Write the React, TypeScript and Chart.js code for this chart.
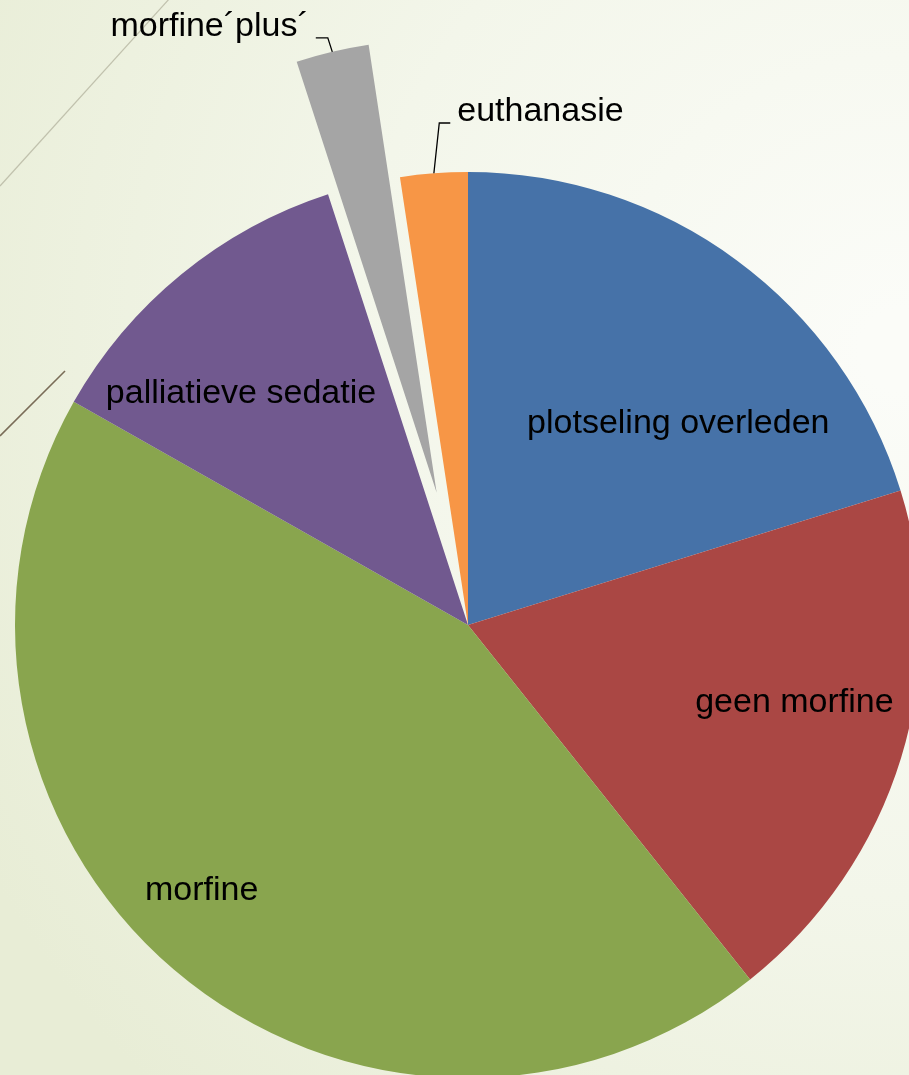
import React, { useEffect, useRef } from "react";
import { Chart, registerables } from "chart.js";

Chart.register(...registerables);

// ---- data ----
const categories = [
  "plotseling overleden",
  "geen morfine",
  "morfine",
  "palliatieve sedatie",
  "morfine´plus´",
  "euthanasie",
];
const shares = [20.2, 19.1, 43.9, 11.8, 2.6, 2.4];

// ---- styles ----
const sliceColors = ["#4672A8", "#AA4744", "#89A54E", "#71598F", "#A5A5A5", "#F79646"];
const explodePx = [0, 0, 0, 0, 136, 0];
const labelInside: ({ dAngle: number; rFrac: number } | null)[] = [
  { dAngle: 11.3, rFrac: 0.628 },
  { dAngle: -2.1, rFrac: 0.746 },
  { dAngle: 3.6, rFrac: 0.845 },
  { dAngle: -6.4, rFrac: 0.701 },
  null,
  null,
];
const labelLeader: ({ ex: number; ey: number; hx: number } | null)[] = [
  null,
  null,
  null,
  null,
  { ex: -4.5, ey: -14, hx: -12 },
  { ex: 5.4, ey: -50.3, hx: 11 },
];
const FONT = "34px 'Liberation Sans', Arial, sans-serif";

const backgroundPlugin = {
  id: "bg",
  beforeDraw(chart: any) {
    const { ctx, width, height } = chart;
    ctx.save();
    const g = ctx.createRadialGradient(900, 350, 40, 900, 350, 1050);
    g.addColorStop(0, "#fbfcf8");
    g.addColorStop(0.5, "#f3f6ea");
    g.addColorStop(1, "#e8edd6");
    ctx.fillStyle = g;
    ctx.fillRect(0, 0, width, height);
    ctx.strokeStyle = "rgba(185,185,165,0.85)";
    ctx.lineWidth = 1.2;
    ctx.beginPath();
    ctx.moveTo(0, 186);
    ctx.quadraticCurveTo(90, 86, 170, -2);
    ctx.stroke();
    ctx.strokeStyle = "#7a6d58";
    ctx.lineWidth = 1.6;
    ctx.beginPath();
    ctx.moveTo(0, 436);
    ctx.lineTo(65, 371);
    ctx.stroke();
    ctx.restore();
  },
};

const explodePlugin = {
  id: "explode",
  afterDatasetsUpdate(chart: any) {
    const meta = chart.getDatasetMeta(0);
    meta.data.forEach((el: any, i: number) => {
      const d = explodePx[i] || 0;
      if (!d) return;
      const mid = (el.startAngle + el.endAngle) / 2;
      el.x += Math.cos(mid) * d;
      el.y += Math.sin(mid) * d;
    });
  },
};

const labelPlugin = {
  id: "sliceLabels",
  afterDatasetsDraw(chart: any) {
    const { ctx } = chart;
    const meta = chart.getDatasetMeta(0);
    ctx.save();
    ctx.font = FONT;
    ctx.fillStyle = "#000";
    ctx.textBaseline = "alphabetic";
    meta.data.forEach((el: any, i: number) => {
      const { x, y, startAngle, endAngle, outerRadius } = el;
      const mid = (startAngle + endAngle) / 2;
      const inside = labelInside[i];
      if (inside) {
        const a = mid + (inside.dAngle * Math.PI) / 180;
        const r = outerRadius * inside.rFrac;
        ctx.textAlign = "center";
        ctx.fillText(categories[i], x + Math.cos(a) * r, y + Math.sin(a) * r);
      }
      const ld = labelLeader[i];
      if (ld) {
        const ox = x + Math.cos(mid) * outerRadius;
        const oy = y + Math.sin(mid) * outerRadius;
        const ex = ox + ld.ex;
        const ey = oy + ld.ey;
        const hx = ex + ld.hx;
        ctx.strokeStyle = "#000";
        ctx.lineWidth = 1.3;
        ctx.beginPath();
        ctx.moveTo(ox, oy);
        ctx.lineTo(ex, ey);
        ctx.lineTo(hx, ey);
        ctx.stroke();
        ctx.textAlign = ld.hx > 0 ? "left" : "right";
        ctx.fillText(categories[i], hx + Math.sign(ld.hx) * 7, ey - 2);
      }
    });
    ctx.restore();
  },
};

export default function App() {
  const ref = useRef<HTMLCanvasElement>(null);
  useEffect(() => {
    if (!ref.current) return;
    const chart = new Chart(ref.current, {
      type: "pie",
      data: {
        labels: categories,
        datasets: [
          {
            data: shares,
            backgroundColor: sliceColors,
            borderWidth: 0,
            radius: 453,
          } as any,
        ],
      },
      options: {
        responsive: false,
        animation: false,
        events: [],
        radius: 453,
        layout: { padding: 0 },
        plugins: {
          legend: { display: false },
          tooltip: { enabled: false },
        },
      } as any,
      plugins: [backgroundPlugin, explodePlugin, labelPlugin],
    });
    return () => chart.destroy();
  }, []);
  return (
    <div
      style={{
        position: "fixed",
        left: 0,
        top: 0,
        width: 909,
        height: 1075,
        overflow: "hidden",
        background: "#f3f6ea",
      }}
    >
      <canvas
        ref={ref}
        width={936}
        height={1250}
        style={{ position: "absolute", left: 0, top: 0, width: 936, height: 1250 }}
      />
    </div>
  );
}
